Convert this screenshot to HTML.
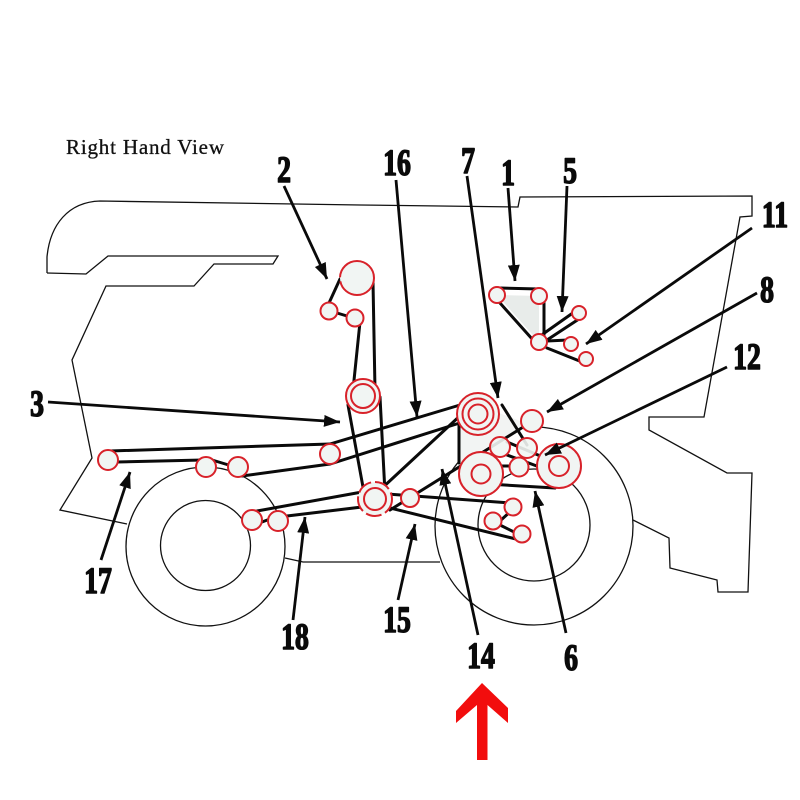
<!DOCTYPE html>
<html><head><meta charset="utf-8"><style>
html,body{margin:0;padding:0;background:#fff}
svg{display:block}
.o{fill:none;stroke:#111;stroke-width:1.3;stroke-linejoin:miter}
.b{stroke:#0a0a0a;stroke-width:3;fill:none;stroke-linecap:round}
.a{stroke:#0a0a0a;stroke-width:2.8;fill:none;marker-end:url(#ah)}
.p{fill:#f1f5f3;stroke:#d8222a;stroke-width:2}
.r{fill:none;stroke:#d8222a;stroke-width:2}
.n{font-family:"Liberation Serif",serif;font-weight:bold;font-size:37px;fill:#0a0a0a;stroke:#0a0a0a;stroke-width:1.6;stroke-linejoin:round}
</style></head><body>
<svg width="800" height="800" viewBox="0 0 800 800" xmlns="http://www.w3.org/2000/svg">
<defs>
<marker id="ah" markerUnits="userSpaceOnUse" markerWidth="16" markerHeight="12" refX="16" refY="6" orient="auto">
<path d="M0,0 L16,6 L0,12 z" fill="#0a0a0a"/>
</marker>
</defs>

<text x="66" y="154" font-family="Liberation Serif, serif" font-size="21" textLength="158" fill="#111" stroke="#111" stroke-width="0.3">Right Hand View</text>

<!-- body outline -->
<path class="o" d="M47,273 L47,257 C50,225 68,202 100,201 L360,205 L518,207 L520,197 L752,196 L752,216 L740,217 L704,417 L649,417 L649,430 L727,473 L752,473 L748,592 L718,592 L717,580 L670,568 L669,538 L633,520"/>
<path class="o" d="M47,273 L86,274 L108,256 L278,256 L273,264 L214,264 L194,286 L106,286 L72,360 L92,458 L60,510 L127,524"/>
<path class="o" d="M285,558 L303,562 L440,562"/>

<!-- wheels -->
<circle class="o" cx="205.5" cy="546.5" r="79.5"/>
<circle class="o" cx="205.5" cy="545.5" r="45"/>
<circle class="o" cx="534" cy="526" r="99"/>
<circle class="o" cx="534" cy="525" r="56"/>

<!-- shaded regions -->
<polygon points="497,295 539,296 539,342" fill="#e8ecea"/>
<polygon points="459,417 470,402 528,424 500,440 459,463" fill="#f2f4f3"/>

<!-- belts -->
<g class="b">
<line x1="329" y1="303" x2="340" y2="279"/>
<line x1="337" y1="313" x2="347" y2="316"/>
<line x1="373" y1="282" x2="375" y2="390"/>
<line x1="360" y1="322" x2="353" y2="390"/>
<line x1="348" y1="405" x2="365" y2="498"/>
<line x1="380" y1="397" x2="385" y2="493"/>
<polyline points="110,451 330,444 470,402"/>
<line x1="117" y1="462" x2="203" y2="460"/>
<line x1="212" y1="460" x2="232" y2="466"/>
<polyline points="242,476 330,464 466,421"/>
<line x1="257" y1="511" x2="362" y2="492"/>
<line x1="287" y1="516" x2="362" y2="507"/>
<line x1="262" y1="522" x2="270" y2="519"/>
<line x1="387" y1="494" x2="510" y2="503"/>
<line x1="382" y1="506" x2="520" y2="540"/>
<line x1="463" y1="413" x2="380" y2="490"/>
<line x1="528" y1="424" x2="390" y2="510"/>
<line x1="459" y1="417" x2="459" y2="463"/>
<line x1="502" y1="405" x2="527" y2="445"/>
<line x1="507" y1="442" x2="557" y2="463"/>
<line x1="507" y1="455" x2="553" y2="472"/>
<line x1="490" y1="466" x2="512" y2="466"/>
<line x1="488" y1="484" x2="555" y2="488"/>
<line x1="500" y1="521" x2="512" y2="510"/>
<line x1="496" y1="523" x2="518" y2="534"/>
<!-- top group -->
<line x1="500" y1="288" x2="539" y2="289"/>
<line x1="500" y1="303" x2="533" y2="340"/>
<line x1="544" y1="297" x2="544" y2="335"/>
<line x1="543" y1="334" x2="577" y2="310"/>
<line x1="547" y1="340" x2="582" y2="317"/>
<line x1="547" y1="341" x2="568" y2="340"/>
<line x1="547" y1="348" x2="582" y2="362"/>
</g>

<!-- pulleys -->
<circle class="p" cx="357" cy="278" r="17" stroke-dasharray="50,4,53"/>
<circle class="p" cx="329" cy="311" r="8.5"/>
<circle class="p" cx="355" cy="318" r="8.5"/>
<circle class="p" cx="363" cy="396" r="17"/>
<circle class="r" cx="363" cy="396" r="12"/>
<circle class="p" cx="330" cy="454" r="10"/>
<circle class="p" cx="375" cy="499" r="17" stroke-dasharray="16,4"/>
<circle class="r" cx="375" cy="499" r="11"/>
<circle class="p" cx="410" cy="498" r="9"/>
<circle class="p" cx="108" cy="460" r="10"/>
<circle class="p" cx="206" cy="467" r="10"/>
<circle class="p" cx="238" cy="467" r="10"/>
<circle class="p" cx="252" cy="520" r="10"/>
<circle class="p" cx="278" cy="521" r="10"/>

<circle class="p" cx="478" cy="414" r="21"/>
<circle class="r" cx="478" cy="414" r="15.5"/>
<circle class="p" cx="478" cy="414" r="9.5"/>
<circle class="p" cx="532" cy="421" r="11"/>
<circle class="p" cx="481" cy="474" r="22"/>
<circle class="p" cx="481" cy="474" r="9.5"/>
<circle class="p" cx="559" cy="466" r="22"/>
<circle class="p" cx="559" cy="466" r="10"/>
<circle class="p" cx="500" cy="447" r="10" fill-opacity="0.9"/>
<circle class="p" cx="527" cy="448" r="10" fill-opacity="0.9"/>
<circle class="p" cx="519" cy="467" r="9.5"/>
<circle class="p" cx="513" cy="507" r="8.5"/>
<circle class="p" cx="493" cy="521" r="8.5"/>
<circle class="p" cx="522" cy="534" r="8.5"/>

<circle class="p" cx="497" cy="295" r="8"/>
<circle class="p" cx="539" cy="296" r="8"/>
<circle class="p" cx="579" cy="313" r="7"/>
<circle class="p" cx="539" cy="342" r="8"/>
<circle class="p" cx="571" cy="344" r="7"/>
<circle class="p" cx="586" cy="359" r="7"/>

<!-- leader arrows -->
<g class="a">
<line x1="284" y1="186" x2="327" y2="279"/>
<line x1="396" y1="180" x2="417" y2="417"/>
<line x1="467" y1="176" x2="498" y2="398"/>
<line x1="508" y1="188" x2="515" y2="281"/>
<line x1="567" y1="186" x2="562" y2="312"/>
<line x1="752" y1="228" x2="586" y2="344"/>
<line x1="757" y1="293" x2="547" y2="412"/>
<line x1="727" y1="367" x2="545" y2="455"/>
<line x1="48" y1="402" x2="340" y2="422"/>
<line x1="101" y1="560" x2="130" y2="472"/>
<line x1="293" y1="620" x2="305" y2="517"/>
<line x1="398" y1="600" x2="415" y2="524"/>
<line x1="478" y1="635" x2="442" y2="469"/>
<line x1="566" y1="633" x2="535" y2="491"/>
</g>

<!-- labels -->
<g class="n" text-anchor="middle">
<text transform="translate(284,182) scale(0.75,1)">2</text>
<text transform="translate(397,175) scale(0.75,1)">16</text>
<text transform="translate(468,173) scale(0.75,1)">7</text>
<text transform="translate(508,185) scale(0.75,1)">1</text>
<text transform="translate(570,183) scale(0.75,1)">5</text>
<text transform="translate(775,227) scale(0.75,1)">11</text>
<text transform="translate(767,302) scale(0.75,1)">8</text>
<text transform="translate(747,369) scale(0.75,1)">12</text>
<text transform="translate(37,416) scale(0.75,1)">3</text>
<text transform="translate(98,593) scale(0.75,1)">17</text>
<text transform="translate(295,649) scale(0.75,1)">18</text>
<text transform="translate(397,632) scale(0.75,1)">15</text>
<text transform="translate(481,668) scale(0.75,1)">14</text>
<text transform="translate(571,670) scale(0.75,1)">6</text>
</g>

<!-- red arrow -->
<polygon points="482,683 508,708 508,723 487.5,705 487.5,760 477,760 477,705 456,723 456,711" fill="#f20d0d"/>
</svg>
</body></html>
